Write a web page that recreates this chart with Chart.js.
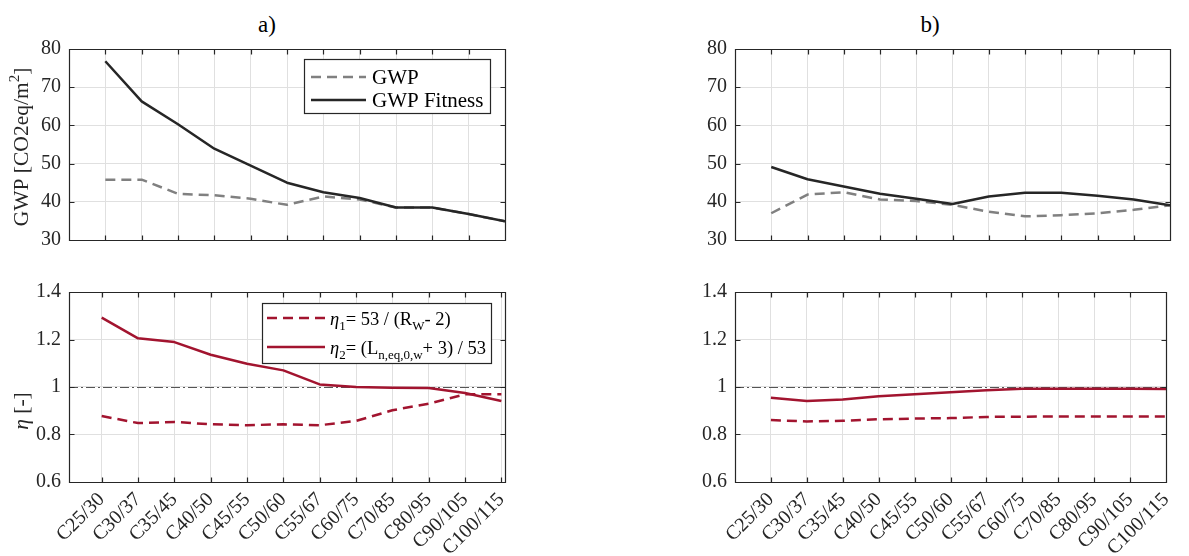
<!DOCTYPE html>
<html><head><meta charset="utf-8">
<script src="https://cdn.jsdelivr.net/npm/chart.js@4.4.1/dist/chart.umd.min.js"></script>
<style>
html,body{margin:0;padding:0;background:#fff;}
#wrap{position:relative;width:1189px;height:556px;overflow:hidden;background:#fff;font-family:'Liberation Serif',serif;}
.c{position:absolute;}
.title{position:absolute;font-family:'Liberation Serif',serif;font-size:23px;line-height:1;color:#000;transform:translateX(-50%);white-space:nowrap;}
.pre{position:absolute;left:-999px;top:0;font-family:'Liberation Serif',serif;font-size:20px;}
</style></head><body>
<div id="wrap">
  <span class="pre">GWP <i>η</i></span>
  <div class="title" style="left:267px;top:13px">a)</div>
  <div class="title" style="left:930px;top:13px">b)</div>
  <canvas class="c" id="aTop" width="560" height="260" style="left:0;top:0"></canvas>
  <canvas class="c" id="aBot" width="560" height="296" style="left:0;top:260px"></canvas>
  <canvas class="c" id="bTop" width="589" height="260" style="left:600px;top:0"></canvas>
  <canvas class="c" id="bBot" width="589" height="296" style="left:600px;top:260px"></canvas>
</div>
<script>
// ---------------- data ----------------
const categories = ['C25/30','C30/37','C35/45','C40/50','C45/55','C50/60','C55/67','C60/75','C70/85','C80/95','C90/105','C100/115'];
const gwpA     = [45.8, 45.8, 42.1, 41.7, 40.8, 39.2, 41.4, 40.6, 38.5, 38.5, 36.8, 34.9];
const gwpFitA  = [76.8, 66.3, 60.3, 53.9, 49.5, 45.0, 42.5, 41.0, 38.5, 38.5, 36.8, 34.9];
const eta1A    = [0.878, 0.848, 0.853, 0.843, 0.839, 0.843, 0.839, 0.857, 0.902, 0.930, 0.969, 0.969];
const eta2A    = [1.292, 1.205, 1.189, 1.136, 1.098, 1.070, 1.011, 1.000, 0.997, 0.996, 0.975, 0.941];
const gwpB     = [37.0, 41.9, 42.5, 40.6, 40.2, 39.2, 37.4, 36.2, 36.5, 37.0, 37.9, 39.1];
const gwpFitB  = [49.1, 45.9, 44.0, 42.1, 40.8, 39.4, 41.4, 42.4, 42.4, 41.6, 40.6, 39.1];
const eta1B    = [0.861, 0.855, 0.858, 0.864, 0.867, 0.869, 0.874, 0.875, 0.876, 0.876, 0.876, 0.876];
const eta2B    = [0.955, 0.941, 0.947, 0.961, 0.969, 0.978, 0.986, 0.993, 0.993, 0.993, 0.993, 0.992];
const gwpTicks = [30, 40, 50, 60, 70, 80];
const etaTicks = [0.6, 0.8, 1, 1.2, 1.4];
const etaRef = 1;

// ---------------- style ----------------
const FONT = '"Liberation Serif", serif';
const INK = '#262626';
const GRID = '#e0e0e0';
const BLACK = '#262626', GRAY = '#808080', RED = '#A2142F';
const DASH = [10, 6];

function drawRich(ctx, segs, x, y, size) {
  let cx = x;
  for (const s of segs) {
    const fs = (s.sub || s.sup) ? Math.round(size * 0.7) : size;
    ctx.font = (s.it ? 'italic ' : '') + fs + 'px ' + FONT;
    const dy = s.sub ? size * 0.28 : (s.sup ? -size * 0.42 : 0);
    ctx.fillText(s.t, cx, y + dy);
    cx += ctx.measureText(s.t).width;
  }
  return cx - x;
}
function richWidth(ctx, segs, size) {
  let w = 0;
  for (const s of segs) {
    const fs = (s.sub || s.sup) ? Math.round(size * 0.7) : size;
    ctx.font = (s.it ? 'italic ' : '') + fs + 'px ' + FONT;
    w += ctx.measureText(s.t).width;
  }
  return w;
}

const decor = {
  id: 'decor',
  beforeDatasetsDraw(chart, args, o) {
    if (o.ref == null) return;
    const ctx = chart.ctx, a = chart.chartArea;
    const y = Math.round(chart.scales.y.getPixelForValue(o.ref)) + 0.5;
    ctx.save();
    ctx.strokeStyle = '#555555'; ctx.lineWidth = 1.2;
    ctx.setLineDash([9, 3, 2, 3]);
    ctx.beginPath(); ctx.moveTo(a.left, y); ctx.lineTo(a.right, y); ctx.stroke();
    ctx.restore();
  },
  afterDatasetsDraw(chart) {
    const ctx = chart.ctx, a = chart.chartArea;
    const L = Math.round(a.left) + 0.5, R = Math.round(a.right) + 0.5;
    const T = Math.round(a.top) + 0.5, B = Math.round(a.bottom) + 0.5;
    ctx.save();
    ctx.strokeStyle = INK; ctx.lineWidth = 1.2; ctx.setLineDash([]);
    ctx.beginPath();
    ctx.moveTo(L, T); ctx.lineTo(R, T); ctx.lineTo(R, B); ctx.lineTo(L, B); ctx.closePath();
    const tl = 5;
    chart.scales.x.ticks.forEach(t => {
      const px = Math.min(R, Math.max(L, Math.round(chart.scales.x.getPixelForValue(t.value)) + 0.5));
      ctx.moveTo(px, T); ctx.lineTo(px, T + tl);
      ctx.moveTo(px, B); ctx.lineTo(px, B - tl);
    });
    chart.scales.y.ticks.forEach(t => {
      const py = Math.min(B, Math.max(T, Math.round(chart.scales.y.getPixelForValue(t.value)) + 0.5));
      ctx.moveTo(L, py); ctx.lineTo(L + tl, py);
      ctx.moveTo(R, py); ctx.lineTo(R - tl, py);
    });
    ctx.stroke();
    ctx.restore();
  },
  afterDraw(chart, args, o) {
    const ctx = chart.ctx;
    ctx.save();
    ctx.fillStyle = INK; ctx.textBaseline = 'alphabetic'; ctx.textAlign = 'left';
    if (o.yTitle) {
      const size = o.yTitle.size;
      const w = richWidth(ctx, o.yTitle.segs, size);
      ctx.translate(o.yTitle.x, o.yTitle.cy);
      ctx.rotate(-Math.PI / 2);
      drawRich(ctx, o.yTitle.segs, -w / 2, 0, size);
      ctx.setTransform(1, 0, 0, 1, 0, 0);
    }
    if (o.legend) {
      const lg = o.legend;
      ctx.fillStyle = '#ffffff';
      ctx.fillRect(lg.box[0], lg.box[1], lg.box[2] - lg.box[0], lg.box[3] - lg.box[1]);
      ctx.strokeStyle = INK; ctx.lineWidth = 1.2;
      ctx.strokeRect(lg.box[0] + 0.5, lg.box[1] + 0.5, lg.box[2] - lg.box[0], lg.box[3] - lg.box[1]);
      const dsets = chart.data.datasets;
      lg.rows.forEach(r => {
        const ds = dsets[r.ds];
        ctx.strokeStyle = ds.borderColor; ctx.lineWidth = ds.borderWidth;
        ctx.setLineDash(ds.borderDash || []);
        ctx.beginPath(); ctx.moveTo(lg.x0, r.y); ctx.lineTo(lg.x1, r.y); ctx.stroke();
        ctx.setLineDash([]);
        ctx.fillStyle = '#000';
        drawRich(ctx, r.segs, lg.tx, r.y + 7, lg.size);
      });
    }
    ctx.restore();
  }
};

function build(id, o) {
  return new Chart(document.getElementById(id), {
    type: 'line',
    data: {
      datasets: o.series.map(s => ({
        label: s.label,
        data: s.values.map((v, i) => ({ x: i, y: v })),
        borderColor: s.color, borderWidth: 2.5, borderDash: s.dash || [],
        pointRadius: 0, tension: 0, fill: false, order: s.order,
        borderCapStyle: 'butt', borderJoinStyle: 'round'
      }))
    },
    options: {
      responsive: false, animation: false, devicePixelRatio: 1,
      layout: { padding: { left: 0, top: o.padTop, right: o.padRight, bottom: 0 } },
      plugins: {
        legend: { display: false }, tooltip: { enabled: false }, title: { display: false },
        decor: { ref: o.ref, yTitle: o.yTitle, legend: o.legend }
      },
      scales: {
        x: {
          type: 'linear', min: o.xMin, max: o.xMax,
          afterBuildTicks: s => { s.ticks = categories.map((c, i) => ({ value: i })); },
          afterFit: s => { s.height = o.xAxisH; },
          grid: { color: GRID, lineWidth: 1, drawTicks: false },
          border: { display: false },
          ticks: {
            display: o.showX, autoSkip: false, maxRotation: 45, minRotation: 45, padding: 6,
            color: INK, font: { family: FONT, size: 20 },
            callback: v => categories[v] ?? ''
          }
        },
        y: {
          type: 'linear', min: o.yMin, max: o.yMax,
          afterBuildTicks: s => { s.ticks = o.yTicks.map(v => ({ value: v })); },
          afterFit: s => { s.width = o.yAxisW; },
          grid: { color: GRID, lineWidth: 1, drawTicks: false },
          border: { display: false },
          ticks: { padding: 8, color: INK, font: { family: FONT, size: 20 }, callback: v => String(v) }
        }
      }
    },
    plugins: [decor]
  });
}

const gwpTitle = { x: 28, cy: 147, size: 21.5, segs: [{ t: 'GWP [CO2eq/m' }, { t: '2', sup: true }, { t: ']' }] };
const etaTitle = { x: 28, cy: 151, size: 21.5, segs: [{ t: 'η', it: true }, { t: ' [-]' }] };

function buildAll() {
  Chart.defaults.font.family = FONT;
  build('aTop', {
    series: [
      { label: 'GWP', values: gwpA, color: GRAY, dash: DASH, order: 2 },
      { label: 'GWP Fitness', values: gwpFitA, color: BLACK, order: 1 }
    ],
    yMin: 30, yMax: 80, yTicks: gwpTicks, xMin: -1, xMax: 11,
    yAxisW: 69, padTop: 49, padRight: 55, xAxisH: 16, showX: false,
    yTitle: gwpTitle,
    legend: {
      box: [304, 59, 490, 113], x0: 311, x1: 366, tx: 372, size: 21,
      rows: [
        { ds: 0, y: 77, segs: [{ t: 'GWP' }] },
        { ds: 1, y: 100, segs: [{ t: 'GWP Fitness' }] }
      ]
    }
  });

  build('aBot', {
    series: [
      { label: 'eta1', values: eta1A, color: RED, dash: DASH, order: 2 },
      { label: 'eta2', values: eta2A, color: RED, order: 1 }
    ],
    yMin: 0.6, yMax: 1.4, yTicks: etaTicks, xMin: -0.9, xMax: 11.1,
    yAxisW: 69, padTop: 32, padRight: 55, xAxisH: 74, showX: true,
    ref: etaRef, yTitle: etaTitle,
    legend: {
      box: [262, 43, 491, 103], x0: 267, x1: 325, tx: 330, size: 18.5,
      rows: [
        { ds: 0, y: 58, segs: [{ t: 'η', it: true }, { t: '1', sub: true }, { t: '= 53 / (R' }, { t: 'W', sub: true }, { t: '- 2)' }] },
        { ds: 1, y: 87, segs: [{ t: 'η', it: true }, { t: '2', sub: true }, { t: '= (L' }, { t: 'n,eq,0,w', sub: true }, { t: '+ 3) / 53' }] }
      ]
    }
  });

  build('bTop', {
    series: [
      { label: 'GWP', values: gwpB, color: GRAY, dash: DASH, order: 2 },
      { label: 'GWP Fitness', values: gwpFitB, color: BLACK, order: 1 }
    ],
    yMin: 30, yMax: 80, yTicks: gwpTicks, xMin: -1, xMax: 11,
    yAxisW: 135, padTop: 49, padRight: 19, xAxisH: 16, showX: false
  });

  build('bBot', {
    series: [
      { label: 'eta1', values: eta1B, color: RED, dash: DASH, order: 2 },
      { label: 'eta2', values: eta2B, color: RED, order: 1 }
    ],
    yMin: 0.6, yMax: 1.4, yTicks: etaTicks, xMin: -1, xMax: 11,
    yAxisW: 135, padTop: 32, padRight: 19, xAxisH: 74, showX: true,
    ref: etaRef
  });
}

const fontLoads = [
  '20px "Liberation Serif"', 'italic 20px "Liberation Serif"'
].map(f => (document.fonts && document.fonts.load) ? document.fonts.load(f, 'GWP η0123') : Promise.resolve());
Promise.all(fontLoads).catch(() => {}).then(buildAll);
</script>
</body></html>
